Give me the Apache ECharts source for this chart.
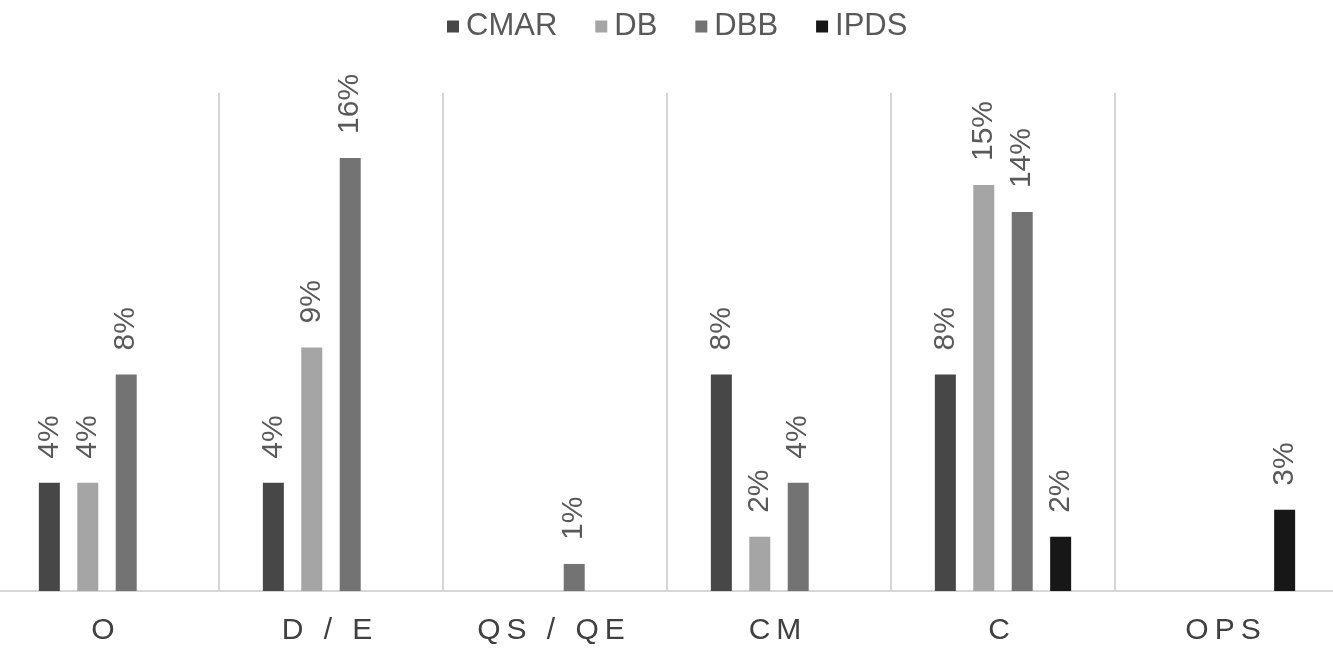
<!DOCTYPE html>
<html><head><meta charset="utf-8">
<script src="https://cdn.jsdelivr.net/npm/echarts@6/dist/echarts.min.js"></script>
<style>html,body{margin:0;padding:0;background:#fff;overflow:hidden}#c{width:1344px;height:649px;margin-left:-5px}</style>
</head><body><div id="c"></div>
<script>
const categories = ['O', 'D \u2009\u2009/ \u2009\u2009E', 'Q\u2009S \u2009\u2009/ \u2009\u2009Q\u2009E', 'C\u2009M', 'C', 'O\u2009P\u2009S'];
const seriesNames = ['CMAR', 'DB', 'DBB', 'IPDS'];
const cmar = [4, 4, null, 8, 8, null];
const db = [4, 9, null, 2, 15, null];
const dbb = [8, 16, 1, 4, 14, null];
const ipds = [null, null, null, null, 2, 3];
const colors = ['#474747', '#a5a5a5', '#737373', '#171717'];
const values = [cmar, db, dbb, ipds];
const font = '"Liberation Sans", Arial, sans-serif';

const chart = echarts.init(document.getElementById('c'));
chart.setOption({
  animation: false,
  color: colors,
  legend: {
    top: 11, left: 452,
    padding: 0,
    itemWidth: 12, itemHeight: 12, itemGap: 38,
    icon: 'rect',
    textStyle: { fontFamily: font, fontSize: 31, color: '#595959', padding: [0, 0, 0, 2] },
    data: seriesNames
  },
  grid: { left: 0, right: 0, top: 93, bottom: 58, containLabel: false },
  xAxis: {
    type: 'category', data: categories,
    axisLine: { lineStyle: { color: '#d6d6d6', width: 2 } },
    axisTick: { show: false },
    splitLine: { show: true, lineStyle: { color: '#d6d6d6', width: 2 } },
    axisLabel: { fontFamily: font, fontSize: 30, color: '#404040', margin: 25, padding: [0, 8, 0, 0] }
  },
  yAxis: { type: 'value', min: 0, max: 18.4, show: false, splitLine: { show: false } },
  series: seriesNames.map((n, i) => ({
    name: n, type: 'bar', data: values[i],
    barWidth: 21, barGap: '83%', barCategoryGap: '40%',
    label: {
      show: true, position: 'top', rotate: 90, align: 'left', verticalAlign: 'middle',
      distance: 24, formatter: '{c}%',
      fontFamily: font, fontSize: 30, color: '#595959'
    }
  }))
});
</script></body></html>
